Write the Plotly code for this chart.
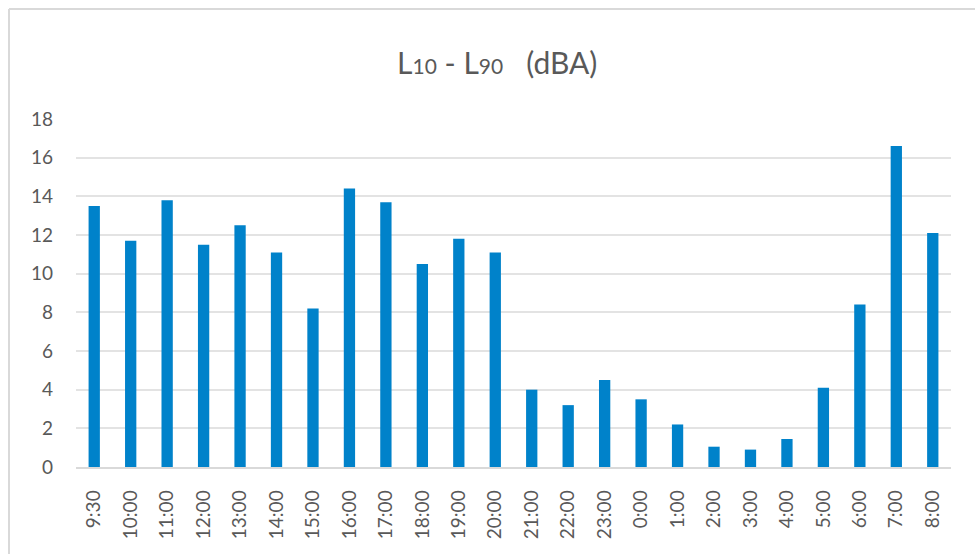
import plotly.graph_objects as go

categories = ["9:30", "10:00", "11:00", "12:00", "13:00", "14:00", "15:00", "16:00",
              "17:00", "18:00", "19:00", "20:00", "21:00", "22:00", "23:00", "0:00",
              "1:00", "2:00", "3:00", "4:00", "5:00", "6:00", "7:00", "8:00"]
values = [13.5, 11.7, 13.8, 11.5, 12.5, 11.1, 8.2, 14.4,
          13.7, 10.5, 11.8, 11.1, 4.0, 3.2, 4.5, 3.5,
          2.2, 1.05, 0.9, 1.45, 4.1, 8.4, 16.6, 12.1]
y_ticks = [0, 2, 4, 6, 8, 10, 12, 14, 16, 18]

W, H = 975, 554
FONT = "Lato, 'Open Sans', sans-serif"
GRAY = "#595959"

fig = go.Figure(go.Bar(x=categories, y=values, marker_color="#0082CA",
                       marker_line_width=0, width=0.31))

fig.update_layout(
    width=W, height=H,
    margin=dict(l=76, r=24, t=119, b=87),
    paper_bgcolor="white", plot_bgcolor="white",
    showlegend=False,
    font=dict(family=FONT, color=GRAY),
    title=dict(
        text="L<span style='font-size:21px'>10</span> - L<span style='font-size:21px'>90</span>   (dBA)",
        x=0.51, xanchor="center", y=1 - 63 / H, yanchor="middle",
        font=dict(family=FONT, size=30, color=GRAY),
    ),
    xaxis=dict(tickangle=-90, tickfont=dict(size=19, color=GRAY),
               showgrid=False, showline=True, linecolor="#d9d9d9", linewidth=1.5,
               ticks="", ticklabelstandoff=14),
    yaxis=dict(range=[0, 18], tickvals=y_ticks, tickfont=dict(size=19, color=GRAY),
               showgrid=True, gridcolor="#e3e3e3", gridwidth=1.5,
               zeroline=False, showline=False, ticks="", ticklabelstandoff=22),
    shapes=[
        dict(type="line", xref="paper", yref="paper",
             x0=(9 - 76) / 875, x1=(W + 5 - 76) / 875,
             y0=1 + (119 - 9) / 348, y1=1 + (119 - 9) / 348,
             line=dict(color="#d9d9d9", width=2)),
        dict(type="line", xref="paper", yref="paper",
             x0=(9 - 76) / 875, x1=(9 - 76) / 875,
             y0=1 + (119 - 9) / 348, y1=-(H + 5 - 467) / 348,
             line=dict(color="#d9d9d9", width=2)),
    ],
)

fig.write_html("out.html", config={"displayModeBar": False},
               post_script="document.body.style.margin='0';document.body.style.overflow='hidden';")
